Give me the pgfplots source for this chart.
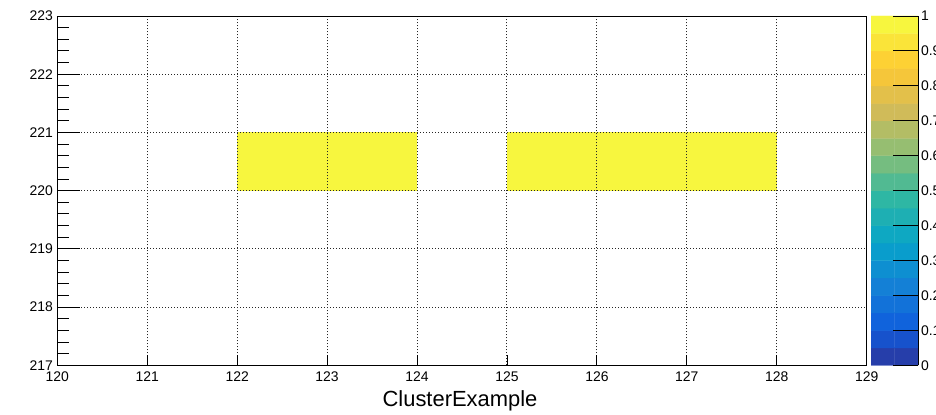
\documentclass[border=0pt]{standalone}
\usepackage{pgfplots}
\pgfplotsset{compat=1.18}
\usepackage{fontspec}
\setmainfont{Liberation Sans}

% ROOT kBird palette, last stop = colour of a full bin
\definecolor{birdtop}{RGB}{247,246,62}
\pgfplotsset{
  colormap={bird}{
    rgb(0cm)=(0.2082,0.1664,0.5293) rgb(1cm)=(0.0592,0.3599,0.8684)
    rgb(2cm)=(0.0780,0.5041,0.8385) rgb(3cm)=(0.0232,0.6419,0.7914)
    rgb(4cm)=(0.1802,0.7178,0.6425) rgb(5cm)=(0.5301,0.7492,0.4662)
    rgb(6cm)=(0.8186,0.7328,0.3499) rgb(7cm)=(0.9956,0.7862,0.1968)
    rgb(8cm)=(0.9686,0.9647,0.2431)},
}

\begin{document}
\begin{tikzpicture}
\path[use as bounding box] (0,0) rectangle (936bp,415bp);

% main histogram
\begin{axis}[
  at={(57.3bp,49.7bp)}, anchor=south west,
  scale only axis, width=809.4bp, height=349.3bp,
  xmin=120, xmax=129, ymin=217, ymax=223,
  xtick={120,...,129}, ytick={217,...,223},
  minor y tick num=4,
  xtick pos=bottom, ytick pos=left,
  tick align=inside,
  major tick length=23bp, minor tick length=12bp,
  x tick style={draw=none},
  y tick style={black, line width=0.9bp},
  grid=major,
  major grid style={black!85, line width=0.95bp, dash pattern=on 0.95bp off 2.05bp},
  axis on top,
  axis line style={black, line width=0.9bp},
  /pgf/number format/assume math mode=true,
  ticklabel style={font=\fontsize{14}{14}\selectfont},
  xticklabel style={yshift=-2.5bp},
  yticklabel style={xshift=-1bp},
  xlabel={ClusterExample},
  xlabel style={font=\fontsize{22}{22}\selectfont, at={(axis description cs:0.5,0)},
    anchor=base, yshift=-41.4bp, xshift=-2bp},
]
\addplot[draw=none, fill=birdtop, mark=none] coordinates {(122,220) (124,220) (124,221) (122,221)} -- cycle;
\addplot[draw=none, fill=birdtop, mark=none] coordinates {(125,220) (128,220) (128,221) (125,221)} -- cycle;
\end{axis}

% shorter x ticks
\begin{axis}[
  at={(57.3bp,49.7bp)}, anchor=south west,
  scale only axis, width=809.4bp, height=349.3bp,
  xmin=120, xmax=129, ymin=217, ymax=223,
  xtick={121,...,128}, ytick=\empty, xticklabel=\relax,
  xtick pos=bottom, tick align=inside, major tick length=10.7bp,
  x tick style={black, line width=0.9bp},
  axis line style={draw=none},
]
\end{axis}

% palette
\begin{axis}[
  at={(871bp,49.7bp)}, anchor=south west,
  scale only axis, width=47bp, height=349.3bp,
  xmin=0, xmax=1, ymin=0, ymax=1,
  axis x line=none, axis y line*=right,
  axis line style={-, black, line width=0.9bp},
  ytick={0,0.1,0.2,0.3,0.4,0.5,0.6,0.7,0.8,0.9,1},
  yticklabel pos=right, tick align=inside, major tick length=25bp,
  y tick style={black, line width=0.9bp},
  colormap name=bird, point meta min=0, point meta max=1,
  axis on top,
  /pgf/number format/assume math mode=true,
  yticklabel style={font=\fontsize{14}{14}\selectfont, xshift=-0.5bp},
]
\addplot[matrix plot*, mesh/cols=2, point meta=explicit] coordinates {
  (0.25,0.025) [0.05] (0.75,0.025) [0.05]
  (0.25,0.075) [0.10] (0.75,0.075) [0.10]
  (0.25,0.125) [0.15] (0.75,0.125) [0.15]
  (0.25,0.175) [0.20] (0.75,0.175) [0.20]
  (0.25,0.225) [0.25] (0.75,0.225) [0.25]
  (0.25,0.275) [0.30] (0.75,0.275) [0.30]
  (0.25,0.325) [0.35] (0.75,0.325) [0.35]
  (0.25,0.375) [0.40] (0.75,0.375) [0.40]
  (0.25,0.425) [0.45] (0.75,0.425) [0.45]
  (0.25,0.475) [0.50] (0.75,0.475) [0.50]
  (0.25,0.525) [0.55] (0.75,0.525) [0.55]
  (0.25,0.575) [0.60] (0.75,0.575) [0.60]
  (0.25,0.625) [0.65] (0.75,0.625) [0.65]
  (0.25,0.675) [0.70] (0.75,0.675) [0.70]
  (0.25,0.725) [0.75] (0.75,0.725) [0.75]
  (0.25,0.775) [0.80] (0.75,0.775) [0.80]
  (0.25,0.825) [0.85] (0.75,0.825) [0.85]
  (0.25,0.875) [0.90] (0.75,0.875) [0.90]
  (0.25,0.925) [0.95] (0.75,0.925) [0.95]
  (0.25,0.975) [1.00] (0.75,0.975) [1.00]
};
\end{axis}
\end{tikzpicture}
\end{document}
